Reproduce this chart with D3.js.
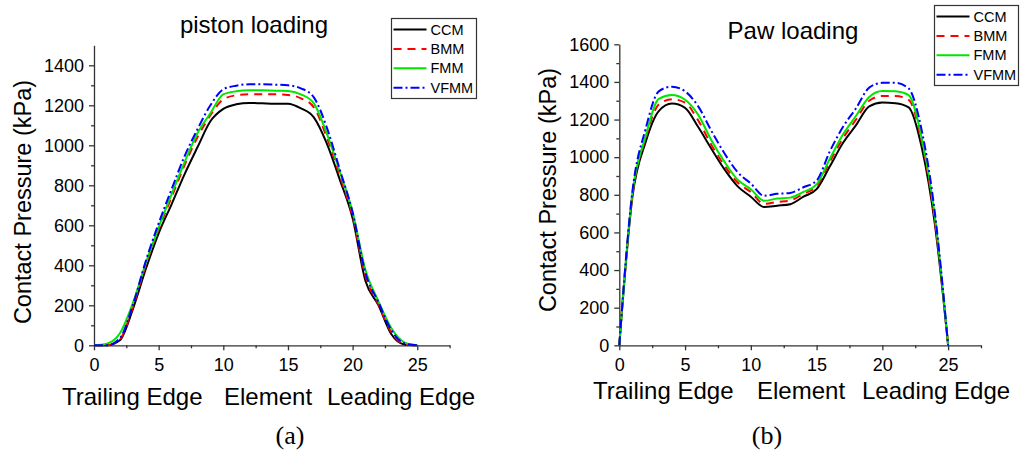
<!DOCTYPE html>
<html>
<head>
<meta charset="utf-8">
<script src="https://cdn.jsdelivr.net/npm/d3@7"></script>
<style>
  body { margin: 0; background: #fff; }
  svg text { font-family: "Liberation Sans", Arial, sans-serif; fill: #000; }
</style>
</head>
<body>
<svg id="chart" width="1020" height="454"></svg>
<script>
// element positions along the contact (x axis)
const elements = [0,1,2,3,4,5,6,7,8,9,10,11,12,13,14,15,16,17,18,19,20,21,22,23,24,25];

// (a) piston loading, contact pressure in kPa
const pistonCCM  = [0,0,25,180,380,560,705,855,990,1120,1182,1205,1212,1210,1208,1208,1185,1140,1010,830,635,320,200,55,4,0];
const pistonBMM  = [0,0,30,190,400,580,740,900,1040,1150,1230,1250,1255,1255,1255,1252,1235,1190,1040,850,645,345,205,65,5,0];
const pistonFMM  = [0,8,60,210,410,590,755,915,1060,1160,1255,1270,1275,1275,1273,1272,1255,1210,1060,870,665,375,220,85,15,0];
const pistonVFMM = [0,0,35,200,420,610,780,945,1080,1200,1280,1298,1305,1305,1303,1300,1285,1240,1090,880,665,360,215,75,10,0];

// (b) paw loading, contact pressure in kPa
const pawCCM  = [0,790,1080,1245,1285,1262,1160,1045,935,845,790,735,742,750,790,830,950,1075,1170,1270,1290,1287,1265,1050,640,0];
const pawBMM  = [0,800,1100,1280,1308,1290,1195,1065,955,865,815,752,762,770,805,845,975,1100,1200,1300,1325,1325,1305,1080,660,0];
const pawFMM  = [0,810,1110,1310,1330,1305,1225,1090,975,880,830,768,780,785,815,855,990,1120,1220,1320,1352,1350,1330,1100,680,0];
const pawVFMM = [0,820,1150,1350,1375,1350,1270,1140,1020,920,860,795,805,810,840,875,1030,1160,1260,1370,1395,1395,1365,1140,700,0];

const seriesNames = ["CCM", "BMM", "FMM", "VFMM"];
const seriesColors = ["#000000", "#ff0000", "#00e600", "#0000ff"];
const seriesDash = [null, "8,6", null, "9,3,2,3"];

const xTicks = [0, 5, 10, 15, 20, 25];

const svg = d3.select("#chart");

function drawPanel(cfg) {
  const g = svg.append("g");

  let xScale = d3.scaleLinear()
    .domain([0, 27.5])
    .range([cfg.left, cfg.right]);

  let yScale = d3.scaleLinear()
    .domain([0, cfg.yMax])
    .range([cfg.bottom, cfg.top]);

  // minor ticks first, then the main axes on top
  g.append("g")
    .attr("transform", `translate(${cfg.left},0)`)
    .call(d3.axisLeft(yScale).tickValues(d3.range(100, cfg.yMax, 200)).tickSize(3).tickFormat(""))
    .call(a => a.select(".domain").remove());

  g.append("g")
    .attr("transform", `translate(0,${cfg.bottom})`)
    .call(d3.axisBottom(xScale).tickValues([2.5, 7.5, 12.5, 17.5, 22.5, 27.5]).tickSize(3).tickFormat(""))
    .call(a => a.select(".domain").remove());

  g.append("g")
    .attr("transform", `translate(${cfg.left},0)`)
    .call(d3.axisLeft(yScale).tickValues(cfg.yTicks).tickFormat(d3.format("d"))
      .tickSize(5).tickSizeOuter(0).tickPadding(5));

  g.append("g")
    .attr("transform", `translate(0,${cfg.bottom})`)
    .call(d3.axisBottom(xScale).tickValues(xTicks).tickFormat(d3.format("d"))
      .tickSize(5).tickSizeOuter(0).tickPadding(8));

  g.selectAll(".tick text").style("font-size", "18px").style("font-family", "Liberation Sans, Arial, sans-serif");
  g.selectAll(".domain, .tick line").attr("stroke", "#333").attr("stroke-width", 1.3);

  // curves
  let line = d3.line()
    .x((d, i) => xScale(elements[i]))
    .y(d => yScale(d))
    .curve(d3.curveMonotoneX);

  cfg.series.forEach((s, i) => {
    g.append("path")
      .attr("d", line(s))
      .attr("fill", "none")
      .attr("stroke", seriesColors[i])
      .attr("stroke-width", 2)
      .attr("stroke-dasharray", seriesDash[i]);
  });

  // titles
  g.append("text")
    .attr("x", cfg.titleX).attr("y", cfg.titleY)
    .attr("text-anchor", "middle")
    .style("font-size", "24px")
    .text(cfg.title);

  g.append("text")
    .attr("transform", `translate(${cfg.yLabelX},${cfg.yLabelY}) rotate(-90)`)
    .attr("text-anchor", "middle")
    .style("font-size", "23.5px")
    .text("Contact Pressure (kPa)");

  cfg.xLabels.forEach(l => {
    g.append("text")
      .attr("x", l.x).attr("y", cfg.xLabelY)
      .style("font-size", "24px")
      .text(l.text);
  });

  g.append("text")
    .attr("x", cfg.capX).attr("y", 444)
    .attr("text-anchor", "middle")
    .style("font-size", "26px")
    .style("font-family", "Liberation Serif, Times New Roman, serif")
    .text(cfg.caption);

  // legend
  let lg = g.append("g").attr("transform", `translate(${cfg.legX},${cfg.legY})`);
  lg.append("rect")
    .attr("x", 0).attr("y", 0)
    .attr("width", cfg.legW).attr("height", 80)
    .attr("fill", "#fff").attr("stroke", "#333").attr("stroke-width", 1.2);
  seriesNames.forEach((n, i) => {
    let yy = 11 + i * 19.4;
    lg.append("line")
      .attr("x1", 2).attr("x2", 35)
      .attr("y1", yy).attr("y2", yy)
      .attr("stroke", seriesColors[i])
      .attr("stroke-width", 2)
      .attr("stroke-dasharray", seriesDash[i]);
    lg.append("text")
      .attr("x", 39).attr("y", yy + 5)
      .style("font-size", "14.5px")
      .text(n);
  });
}

drawPanel({
  left: 94, right: 449.6, top: 45.3, bottom: 345.3, yMax: 1500,
  yTicks: [0, 200, 400, 600, 800, 1000, 1200, 1400],
  series: [pistonCCM, pistonBMM, pistonFMM, pistonVFMM],
  title: "piston loading", titleX: 254, titleY: 33,
  yLabelX: 30.5, yLabelY: 202,
  xLabelY: 405,
  xLabels: [{x: 62, text: "Trailing Edge"}, {x: 224, text: "Element"}, {x: 327, text: "Leading Edge"}],
  capX: 290, caption: "(a)",
  legX: 391.5, legY: 18.5, legW: 85
});

drawPanel({
  left: 619.3, right: 981, top: 44.3, bottom: 345.3, yMax: 1600,
  yTicks: [0, 200, 400, 600, 800, 1000, 1200, 1400, 1600],
  series: [pawCCM, pawBMM, pawFMM, pawVFMM],
  title: "Paw loading", titleX: 793, titleY: 39,
  yLabelX: 556, yLabelY: 190,
  xLabelY: 399,
  xLabels: [{x: 593, text: "Trailing Edge"}, {x: 757, text: "Element"}, {x: 862, text: "Leading Edge"}],
  capX: 767, caption: "(b)",
  legX: 934.5, legY: 5.5, legW: 84
});
</script>
</body>
</html>
